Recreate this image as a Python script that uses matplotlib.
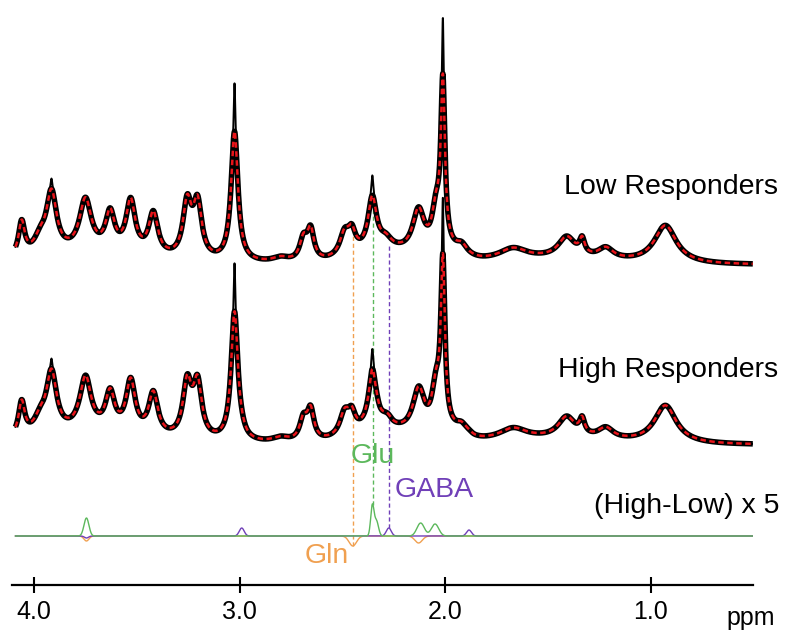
import numpy as np
import matplotlib
matplotlib.use("Agg")
import matplotlib.pyplot as plt

plt.rcParams['font.family'] = ['Liberation Sans', 'DejaVu Sans']

# peaks of the Low Responders spectrum: centre (ppm), height (a.u.), half width (ppm)
low_ppm = [4.06, 3.97, 3.915, 3.75, 3.63, 3.53, 3.42, 3.255, 3.205, 3.025, 2.80,
           2.69, 2.655, 2.49, 2.455, 2.355, 2.29, 2.13, 2.045, 2.012, 1.92,
           1.67, 1.41, 1.335, 1.22, 0.93]
low_amp = [34, 14, 60, 52, 38, 52, 42, 54, 54, 130, 5,
           21, 30, 22, 20, 52, 9, 44, 40, 163, 8,
           11, 21, 15, 11, 38]
low_hw = [0.018, 0.035, 0.03, 0.035, 0.027, 0.027, 0.027, 0.025, 0.025, 0.02, 0.05,
          0.022, 0.02, 0.028, 0.022, 0.025, 0.035, 0.035, 0.025, 0.012, 0.03,
          0.08, 0.05, 0.015, 0.045, 0.065]
# broad background humps
bg_ppm = [3.75, 2.3, 1.96, 1.5]
bg_amp = [10, 12, 7, 5]
bg_sig = [0.3, 0.15, 0.06, 0.3]
# narrow spikes seen only in the black (individual) traces
spike_ppm = [3.025, 2.012, 2.355, 3.915]
spike_amp = [48, 56, 20, 10]
spike_hw = [0.004, 0.004, 0.006, 0.005]

# (High-Low) x 5 difference components: centre, height, sigma
glu_ppm = [3.745, 2.355, 2.335, 2.12, 2.05]
glu_amp = [18, 30, 15, 13, 12]
glu_sig = [0.012, 0.008, 0.01, 0.018, 0.018]
gln_ppm = [3.745, 2.45, 2.13]
gln_amp = [-5, -10, -7]
gln_sig = [0.012, 0.018, 0.018]
gaba_ppm = [3.745, 2.99, 2.275, 1.885]
gaba_amp = [-2, 8, 8, 6]
gaba_sig = [0.01, 0.012, 0.012, 0.012]

tick_vals = [4.0, 3.0, 2.0, 1.0]
tick_labels = ['4.0', '3.0', '2.0', '1.0']

low_off = 320
high_off = 140
diff_off = 49

green = '#5cb85c'
orange = '#f0a050'
purple = '#7040b8'


def lor(x, c, h, w):
    return h * w ** 2 / ((x - c) ** 2 + w ** 2)


def gau(x, c, h, s):
    return h * np.exp(-0.5 * ((x - c) / s) ** 2)


ppm = np.linspace(4.09, 0.505, 5000)
base = np.zeros_like(ppm)
for c, h, w in zip(low_ppm, low_amp, low_hw):
    base += lor(ppm, c, h, w)
for c, h, s in zip(bg_ppm, bg_amp, bg_sig):
    base += gau(ppm, c, h, s)
spikes = np.zeros_like(ppm)
for c, h, w in zip(spike_ppm, spike_amp, spike_hw):
    spikes += lor(ppm, c, h, w)

glu = sum(gau(ppm, c, h, s) for c, h, s in zip(glu_ppm, glu_amp, glu_sig))
gln = sum(gau(ppm, c, h, s) for c, h, s in zip(gln_ppm, gln_amp, gln_sig))
gaba = sum(gau(ppm, c, h, s) for c, h, s in zip(gaba_ppm, gaba_amp, gaba_sig))

low = base
high = base + (glu + gln + gaba) / 5

fig = plt.figure(figsize=(7.87, 6.31), dpi=100)
ax = fig.add_axes([12 / 787, 1 - 585 / 631, 741 / 787, 585 / 631])
ax.set_xlim(4.107, 0.504)
ax.set_ylim(0, 585)

for spec, off in [(low, low_off), (high, high_off)]:
    ax.plot(ppm, spec + off, color='black', lw=4.0, zorder=3, solid_capstyle='butt')
    ax.plot(ppm, spec + spikes + off, color='black', lw=1.4, zorder=3)
    ax.plot(ppm, spec + off, color='#e8141a', lw=1.8, dashes=(2.2, 1.4), zorder=4)

# difference spectra
ax.plot(ppm, gln + diff_off, color=orange, lw=1.0, zorder=2)
ax.plot(ppm, gaba + diff_off, color=purple, lw=1.0, zorder=2)
ax.plot(ppm, glu + diff_off, color=green, lw=1.0, zorder=2)

# dashed guides from Low spectrum down to the difference peaks
for c, col, comp in [(2.449, orange, gln), (2.352, green, glu), (2.272, purple, gaba)]:
    i = np.argmin(np.abs(ppm - c))
    ax.vlines(c, comp[i] + diff_off, low[i] + low_off - 8, colors=col, lw=1.0,
              linestyles=(0, (3, 2)), zorder=1)

ax.text(0.383, 391, 'Low Responders', ha='right', va='baseline', fontsize=20.5)
ax.text(0.383, 208, 'High Responders', ha='right', va='baseline', fontsize=20.5)
ax.text(0.373, 72, '(High-Low) x 5', ha='right', va='baseline', fontsize=20.5)
ax.text(2.352, 122, 'Glu', ha='center', va='baseline', fontsize=20.5, color=green)
ax.text(2.245, 88, 'GABA', ha='left', va='baseline', fontsize=20.5, color=purple)
ax.text(2.576, 22, 'Gln', ha='center', va='baseline', fontsize=20.5, color=orange)
ax.text(0.514, -40, 'ppm', ha='center', va='baseline', fontsize=18)

for s in ['left', 'top', 'right']:
    ax.spines[s].set_visible(False)
ax.spines['bottom'].set_linewidth(1.6)
ax.set_yticks([])
ax.set_xticks(tick_vals)
ax.set_xticklabels(tick_labels)
ax.tick_params(axis='x', direction='inout', length=12, width=1.5, labelsize=18, pad=5)

fig.savefig('out.png', dpi=100)
